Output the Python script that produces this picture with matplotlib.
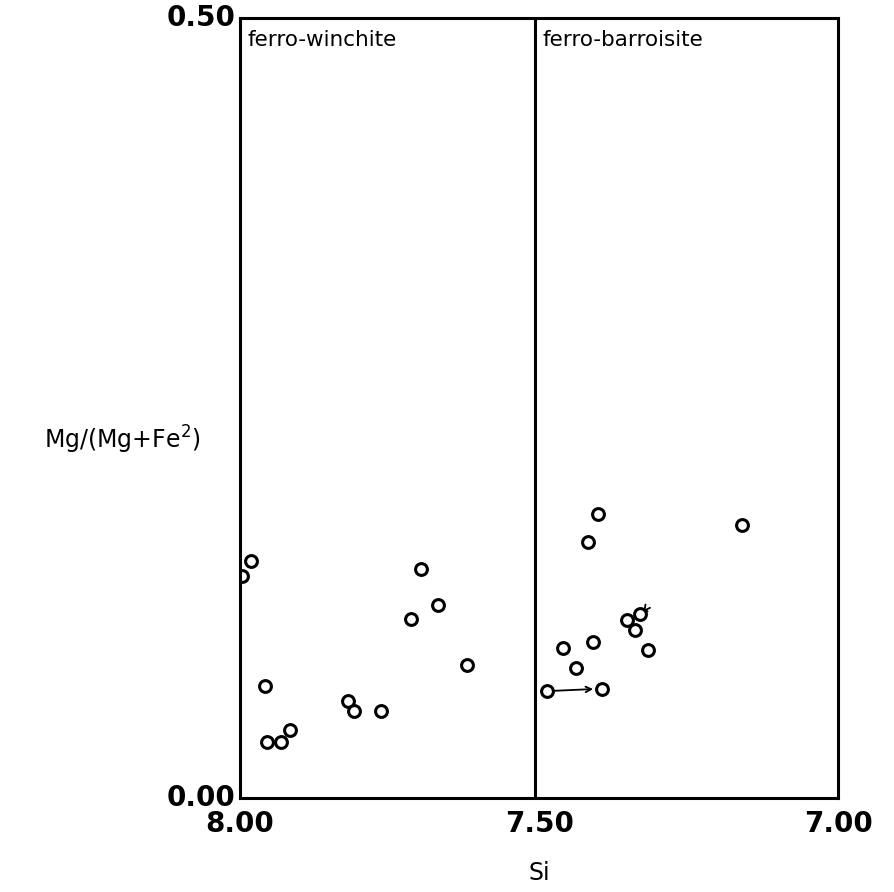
import numpy as np
import matplotlib.pyplot as plt

# ferro-winchite field (Si > 7.5)
si_win = [7.997, 7.982, 7.698, 7.669, 7.714, 7.620, 7.959, 7.819, 7.809, 7.765, 7.916, 7.955, 7.931]
mg_win = [0.1425, 0.152, 0.147, 0.124, 0.115, 0.085, 0.072, 0.062, 0.056, 0.0556, 0.0434, 0.036, 0.0357]

# ferro-barroisite field (Si < 7.5)
si_bar = [7.402, 7.419, 7.161, 7.353, 7.331, 7.339, 7.318, 7.410, 7.460, 7.438, 7.487, 7.395]
mg_bar = [0.182, 0.164, 0.175, 0.114, 0.118, 0.108, 0.0947, 0.0998, 0.0962, 0.0833, 0.0686, 0.0699]

# arrow between two analyses of the same grain
arrow_from = (7.487, 0.0686)
arrow_to = (7.405, 0.0699)

xticks = [8.00, 7.50, 7.00]
xtick_labels = ['8.00', '7.50', '7.00']
yticks = [0.00, 0.50]
ytick_labels = ['0.00', '0.50']

fig = plt.figure(figsize=(8.94, 8.92), dpi=100)
ax = fig.add_axes([0.2685, 0.1054, 0.669, 0.8744])

ax.plot(si_win, mg_win, 'o', mfc='white', mec='black', ms=8.5, mew=2.2, ls='none')
ax.plot(si_bar, mg_bar, 'o', mfc='white', mec='black', ms=8.5, mew=2.2, ls='none')

ax.annotate('', xy=arrow_to, xytext=(arrow_from[0] - 0.006, arrow_from[1]),
            arrowprops=dict(arrowstyle='->', lw=1.3, color='black'))
# small hooked arrow next to the clustered points
ax.annotate('', xy=(7.328, 0.1175), xytext=(7.315, 0.1185),
            arrowprops=dict(arrowstyle='->', lw=1.3, color='black',
                            connectionstyle='arc3,rad=0.8'))

ax.axvline(7.506, color='black', lw=2.2)

ax.set_xlim(8.0, 7.0)
ax.set_ylim(0.0, 0.5)

ax.set_xticks(xticks)
ax.set_xticklabels(xtick_labels, fontsize=20, fontweight='bold')
ax.set_yticks(yticks)
ax.set_yticklabels(ytick_labels, fontsize=20, fontweight='bold')
ax.tick_params(axis='x', length=0, pad=9)
ax.tick_params(axis='y', length=0, pad=3)
for lab in ax.get_yticklabels():
    lab.set_va('center')

for s in ax.spines.values():
    s.set_linewidth(2.2)

ax.text(7.987, 0.492, 'ferro-winchite', fontsize=15.5, va='top', ha='left')
ax.text(7.494, 0.492, 'ferro-barroisite', fontsize=15.5, va='top', ha='left')

ax.set_xlabel('Si', fontsize=17, labelpad=16)
fig.text(0.137, 0.507, 'Mg/(Mg+Fe$^2$)', fontsize=17, ha='center', va='center')

fig.savefig('out.png', dpi=100)
